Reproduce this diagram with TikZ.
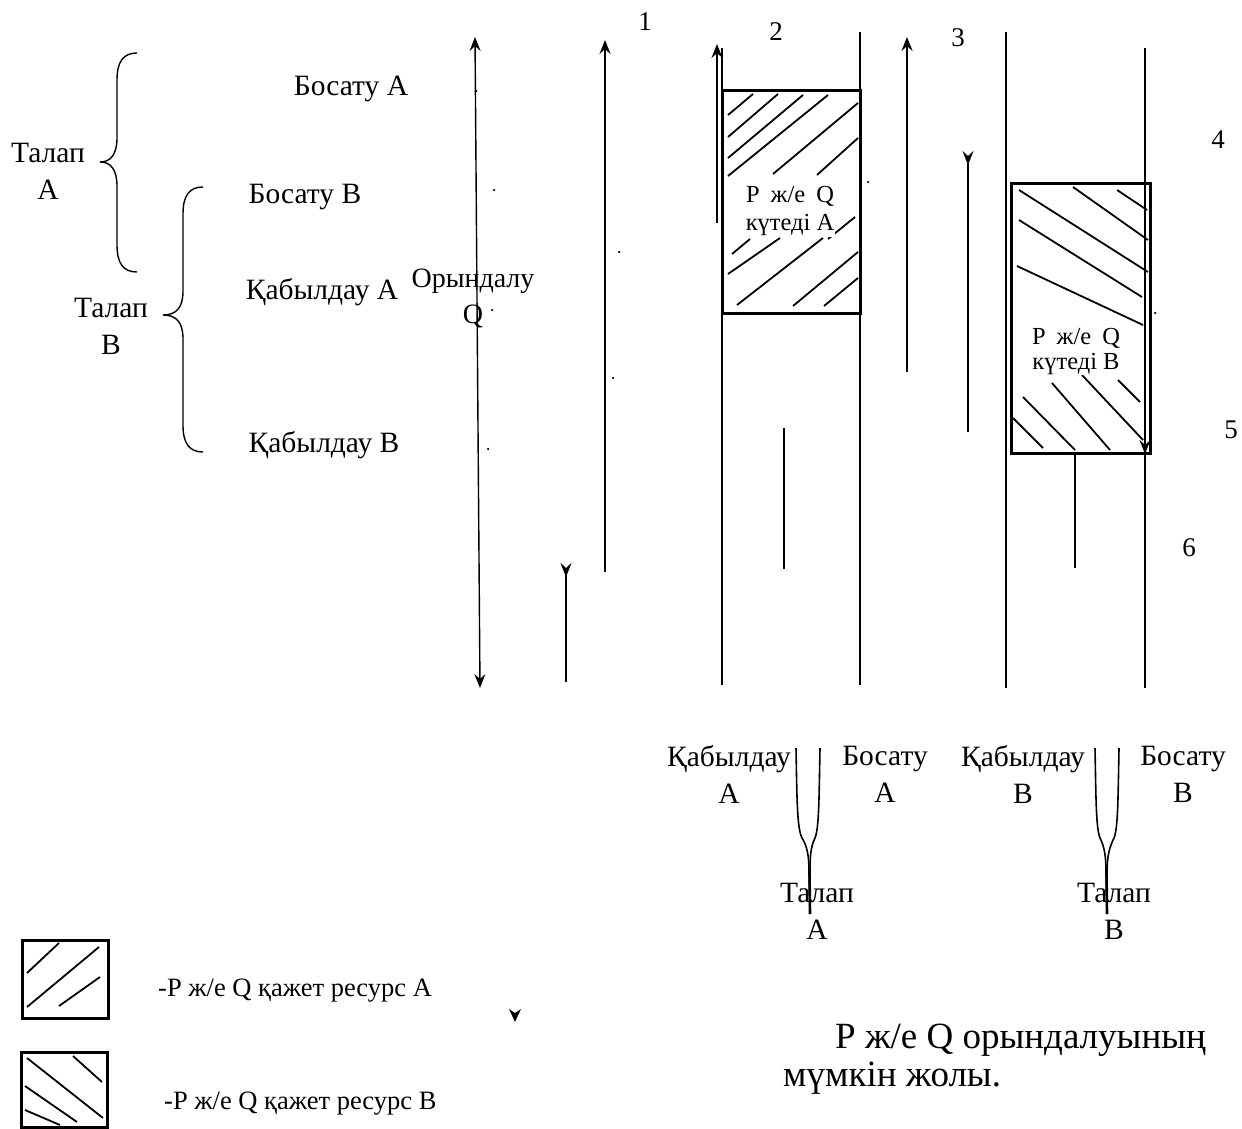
\documentclass[tikz,border=0pt]{standalone}
\usepackage{fontspec}
\setmainfont{Liberation Serif}
\newfontfamily\tnr{Liberation Serif}
\usetikzlibrary{arrows.meta}
\tikzset{
  fwd/.tip={Stealth[length=14pt,width=11pt,inset=5pt]},
  bwd/.tip={Stealth[length=14pt,width=11pt,inset=5pt,reversed]},
}
\begin{document}
\begin{tikzpicture}[x=1pt,y=-1pt,
  lbl/.style={font=\tnr\fontsize{29.5}{37}\selectfont, inner sep=0pt, align=center},
  boxtxt/.style={font=\tnr\fontsize{24.5}{29}\selectfont, inner sep=0pt, align=center},
  num/.style={font=\tnr\fontsize{27}{28}\selectfont, inner sep=0pt},
  legend/.style={font=\tnr\fontsize{26.5}{28}\selectfont, inner sep=0pt, anchor=west},
  caption/.style={font=\tnr\fontsize{37}{40}\selectfont, inner sep=0pt, anchor=west},
  thinline/.style={line width=1.4pt},
  colline/.style={line width=2pt},
  boldline/.style={line width=2.8pt},
  frame/.style={line width=3pt},
  hatch/.style={line width=1.8pt},
  speck/.style={circle, fill, inner sep=0pt, minimum size=2.5pt},
]
\useasboundingbox (0,0) rectangle (1242,1129);

% ---------- braces and the event list ----------
\draw[line width=1.4pt] (137,53) .. controls (123,53) and (117,62) .. (117,80) -- (117,138)
  .. controls (117,154) and (111,162) .. (100,162) .. controls (111,162) and (117,170) .. (117,186)
  -- (117,245) .. controls (117,263) and (123,272) .. (137,272);
\draw[line width=1.4pt] (203,187) .. controls (189,187) and (183,196) .. (183,214) -- (183,291)
  .. controls (183,307) and (177,315) .. (163,315) .. controls (177,315) and (183,323) .. (183,339)
  -- (183,425) .. controls (183,443) and (189,452) .. (203,452);

\node[lbl] (reqA) at (48,171) {Талап\\А};
\node[lbl] (reqB) at (111,326) {Талап\\В};
\node[lbl] (relA) at (351,89) {Босату А};
\node[lbl] (relB) at (305,197) {Босату В};
\node[lbl] (accA) at (322,292) {Қабылдау А};
\node[lbl] (accB) at (324,445) {Қабылдау В};
\node[lbl, font=\tnr\fontsize{28}{36}\selectfont] (runQ) at (473,298) {Орындалу\\Q};

% ---------- numbers ----------
\node[num] (n1) at (645,22) {1};
\node[num] (n2) at (776,32) {2};
\node[num] (n3) at (958,38) {3};
\node[num] (n4) at (1218,140) {4};
\node[num] (n5) at (1231,430) {5};
\node[num] (n6) at (1189,548) {6};

% ---------- end points of the vertical tracks ----------
\coordinate (q0t) at (475,37);  \coordinate (q0b) at (480,688);
\coordinate (p1t) at (605,40);  \coordinate (p1b) at (605,572);
\coordinate (w1t) at (566,563); \coordinate (w1b) at (566,682);
\coordinate (u2t) at (717,44);  \coordinate (u2b) at (717,223);
\coordinate (l2t) at (722,48);  \coordinate (l2b) at (722,685);
\coordinate (r2t) at (860,32);  \coordinate (r2b) at (860,685);
\coordinate (s2t) at (784,428); \coordinate (s2b) at (784,569);
\coordinate (p3t) at (907,37);  \coordinate (p3b) at (907,372);
\coordinate (w3t) at (968,151); \coordinate (w3b) at (968,432);
\coordinate (l4t) at (1006,32); \coordinate (l4b) at (1006,688);
\coordinate (r4t) at (1145,48); \coordinate (r4m) at (1145,454); \coordinate (r4b) at (1145,688);
\coordinate (s4t) at (1075,453); \coordinate (s4b) at (1075,568);

% ---------- hatched regions ----------
\node[draw, frame, minimum width=138pt, minimum height=222pt, inner sep=0pt] (boxA) at (791,202) {};
\node[draw, frame, minimum width=139pt, minimum height=270pt, inner sep=0pt] (boxB) at (1080.5,318) {};

\begin{scope}[hatch]
  % region A
  \draw (728,115) -- (753,94);
  \draw (728,137) -- (778,94);
  \draw (728,158) -- (803,95);
  \draw (728,176) -- (828,95);
  \draw (773,174) -- (858,103);
  \draw (817,175) -- (858,138);
  \draw (828,239) -- (855,217);
  \draw (732,254) -- (750,239);
  \draw (728,274) -- (780,238);
  \draw (737,305) -- (823,238);
  \draw (793,306) -- (858,252);
  \draw (824,306) -- (858,278);
  % region B
  \draw (1019,190) -- (1148,272);
  \draw (1073,187) -- (1148,240);
  \draw (1117,190) -- (1147,210);
  \draw (1019,220) -- (1142,297);
  \draw (1017,266) -- (1143,325);
  \draw (1013,418) -- (1043,448);
  \draw (1023,397) -- (1075,450);
  \draw (1052,383) -- (1110,450);
  \draw (1082,375) -- (1143,440);
  \draw (1118,380) -- (1140,402);
\end{scope}

\node[boxtxt, fill=white, inner sep=1pt] (waitA) at (790,211) {Р\hspace{0.45em}ж/е\hspace{0.45em}Q\\[-1pt]күтеді А};
\node[boxtxt, fill=white, inner sep=1pt] (waitB) at (1076,351) {Р\hspace{0.45em}ж/е\hspace{0.45em}Q\\[-4pt]күтеді В};

% ---------- tracks ----------
\draw[thinline, fwd-fwd] (q0b) -- (q0t);
\draw[boldline, -fwd] (p1b) -- (p1t);
\draw[boldline, -bwd] (w1b) -- (w1t);
\draw[colline] (l2t) -- (l2b);
\draw[boldline, -fwd] (u2b) -- (u2t);
\draw[colline] (r2t) -- (r2b);
\draw[boldline] (s2t) -- (s2b);
\draw[boldline, -fwd] (p3b) -- (p3t);
\draw[boldline, -bwd] (w3b) -- (w3t);
\draw[colline] (l4t) -- (l4b);
\draw[colline, -fwd] (r4t) -- (r4m);
\draw[colline] (r4m) -- (r4b);
\draw[boldline] (s4t) -- (s4b);

% stray specks
\node[speck] (d1) at (476,91) {};
\node[speck] (d2) at (494,190) {};
\node[speck] (d3) at (619,252) {};
\node[speck] (d4) at (868,182) {};
\node[speck] (d5) at (492,310) {};
\node[speck] (d6) at (613,378) {};
\node[speck] (d7) at (488,449) {};
\node[speck] (d8) at (1155,313) {};
\fill (509,1009) -- (515,1022) -- (521,1009) -- (515,1013) -- cycle;

% ---------- merging requests ----------
\node[lbl] (accA2) at (729,774) {Қабылдау\\А};
\node[lbl] (relA2) at (885,774) {Босату\\А};
\node[lbl] (accB2) at (1023,774) {Қабылдау\\В};
\node[lbl] (relB2) at (1183,774) {Босату\\В};
\node[lbl] (reqA2) at (817,911) {Талап\\А};
\node[lbl] (reqB2) at (1114,911) {Талап\\В};

\coordinate (fAl) at (796,748); \coordinate (fAr) at (820,748); \coordinate (fAb) at (810,914);
\coordinate (fBl) at (1095,748); \coordinate (fBr) at (1119,748); \coordinate (fBb) at (1107,914);
\draw[line width=1.6pt] (fAl) .. controls (797,800) and (797,828) .. (802,838)
  .. controls (807,846) and (809,855) .. (809,872) -- (fAb);
\draw[line width=1.6pt] (fAr) .. controls (819,800) and (819,828) .. (815,838)
  .. controls (811,846) and (810,855) .. (810,872);
\draw[line width=2.6pt] (809.5,872) -- (fAb);
\draw[line width=1.6pt] (fBl) .. controls (1096,800) and (1096,828) .. (1100,838)
  .. controls (1104,846) and (1106,855) .. (1106,872) -- (fBb);
\draw[line width=1.6pt] (fBr) .. controls (1118,800) and (1118,828) .. (1114,838)
  .. controls (1110,846) and (1107,855) .. (1107,872);
\draw[line width=2.6pt] (1106.5,872) -- (fBb);

% ---------- legend ----------
\node[draw, frame, minimum width=86pt, minimum height=78pt, inner sep=0pt] (keyA) at (65,979) {};
\node[draw, frame, minimum width=86pt, minimum height=75pt, inner sep=0pt] (keyB) at (64,1089.5) {};
\begin{scope}[hatch]
  \draw (27,973) -- (59,943);
  \draw (27,1007) -- (99,947);
  \draw (59,1006) -- (100,977);
  \draw (73,1056) -- (102,1082);
  \draw (27,1058) -- (103,1118);
  \draw (25,1086) -- (77,1122);
  \draw (25,1110) -- (60,1125);
\end{scope}
\node[legend] (keyAtxt) at (158,991) {-Р ж/е Q қажет ресурс А};
\node[legend] (keyBtxt) at (164,1104) {-Р ж/е Q қажет ресурс В};

% ---------- caption ----------
\node[caption] (cap1) at (835,1040) {Р ж/е Q орындалуының};
\node[caption] (cap2) at (783,1078) {мүмкін жолы.};
\end{tikzpicture}
\end{document}
